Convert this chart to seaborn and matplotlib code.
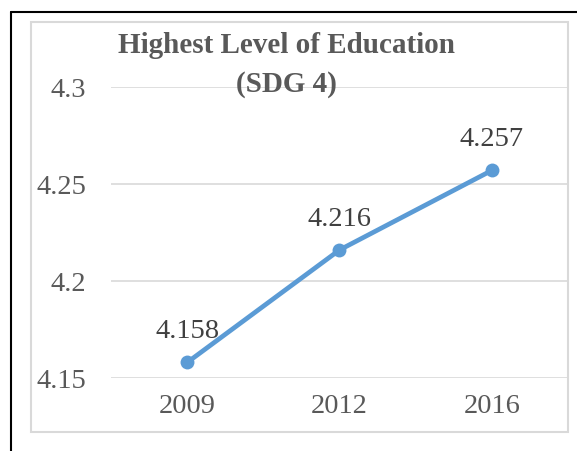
import matplotlib
matplotlib.use("Agg")
import matplotlib.pyplot as plt
import seaborn as sns
import pandas as pd
from matplotlib.lines import Line2D
from matplotlib.patches import Rectangle

# data
years = ["2009", "2012", "2016"]
scores = [4.158, 4.216, 4.257]
y_ticks = [4.15, 4.2, 4.25, 4.3]
y_tick_labels = ["4.15", "4.2", "4.25", "4.3"]

sns.set_theme(style="white")
plt.rcParams["font.family"] = ["Liberation Serif", "DejaVu Serif"]

text_grey = "#595959"
line_blue = "#5B9BD5"

df = pd.DataFrame({"Year": years, "Score": scores})

fig = plt.figure(figsize=(5.77, 4.52), dpi=100)
ax = fig.add_axes([111 / 577, 1 - 379 / 452, (568 - 111) / 577, (379 - 88) / 452])

sns.lineplot(data=df, x="Year", y="Score", ax=ax, sort=False,
             color=line_blue, linewidth=3.4, marker="o", markersize=10,
             markeredgewidth=0, zorder=3)

ax.set_xlim(-0.5, 2.5)
ax.set_ylim(4.15, 4.3)
ax.set_yticks(y_ticks)
ax.set_yticklabels(y_tick_labels)
ax.set_xlabel("")
ax.set_ylabel("")
ax.yaxis.grid(True, color="#D9D9D9", linewidth=1.2)
ax.xaxis.grid(False)
for s in ax.spines.values():
    s.set_visible(False)
ax.tick_params(axis="y", length=0, pad=18, labelsize=20.5, labelcolor=text_grey)
ax.tick_params(axis="x", length=0, pad=11, labelsize=20.5, labelcolor=text_grey)
ax.patch.set_alpha(0)

# data labels
for i, v in enumerate(scores):
    ax.annotate(f"{v:.3f}", (i, v), xytext=(0, 18), textcoords="offset points",
                ha="center", va="baseline", fontsize=20.5, color="#404040")

# title
fig.text(0.497, 1 - 53 / 452, "Highest Level of Education", ha="center", va="baseline",
         fontsize=21, fontweight="bold", color=text_grey)
fig.text(0.497, 1 - 92 / 452, "(SDG 4)", ha="center", va="baseline",
         fontsize=21, fontweight="bold", color=text_grey)

# chart frame and page border
fig.patches.append(Rectangle((31 / 577, 1 - 433 / 452), (568 - 31) / 577, (433 - 23) / 452,
                             transform=fig.transFigure, fill=False,
                             edgecolor="#D9D9D9", linewidth=1.5, zorder=0))
fig.lines.append(Line2D([11 / 577, 1], [1 - 13 / 452, 1 - 13 / 452],
                        transform=fig.transFigure, color="black", linewidth=1.5))
fig.lines.append(Line2D([11 / 577, 11 / 577], [0, 1 - 13 / 452],
                        transform=fig.transFigure, color="black", linewidth=1.5))

fig.savefig("out.png", dpi=100)
